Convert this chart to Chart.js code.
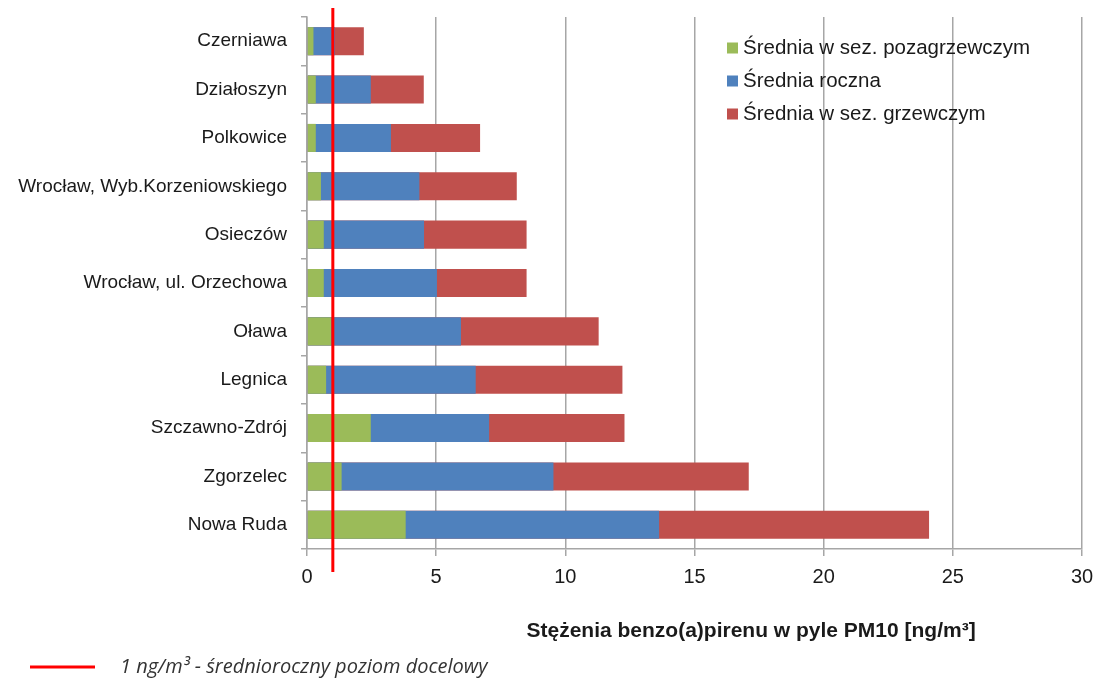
<!DOCTYPE html>
<html>
<head>
<meta charset="utf-8">
<script src="https://cdn.jsdelivr.net/npm/chart.js@4/dist/chart.umd.min.js"></script>
<style>
html,body{margin:0;padding:0;background:#fff;}
#wrap{width:1097px;height:682px;position:relative;}
</style>
</head>
<body>
<div id="wrap"><canvas id="c" width="1097" height="682"></canvas></div>
<script>
const categories = ["Czerniawa","Działoszyn","Polkowice","Wrocław, Wyb.Korzeniowskiego","Osieczów","Wrocław, ul. Orzechowa","Oława","Legnica","Szczawno-Zdrój","Zgorzelec","Nowa Ruda"];
const summerAvg = [0.25,0.34,0.34,0.54,0.65,0.65,0.94,0.74,2.47,1.34,3.82];
const annualAvg = [1.08,2.47,3.25,4.35,4.53,5.03,5.96,6.53,7.05,9.54,13.63];
const heatingAvg = [2.2,4.52,6.7,8.12,8.5,8.5,11.29,12.21,12.29,17.1,24.08];
const seriesNames = ["Średnia w sez. pozagrzewczym","Średnia roczna","Średnia w sez. grzewczym"];
const xTicks = [0,5,10,15,20,25,30];
const targetValue = 1;
const targetLabel = "1 ng/m³ - średnioroczny poziom docelowy";
const axisTitle = "Stężenia benzo(a)pirenu w pyle PM10 [ng/m³]";

const colors = ["#9BBB59","#4F81BD","#C0504D"];
const FONT = "'Liberation Sans', Arial, sans-serif";

const extras = {
  id: 'extras',
  afterDatasetsDraw(chart) {
    const ctx = chart.ctx;
    const xs = chart.scales.x;
    const area = chart.chartArea;
    const x = xs.getPixelForValue(targetValue);
    ctx.save();
    ctx.strokeStyle = "#FF0000";
    ctx.lineWidth = 3;
    ctx.beginPath();
    ctx.moveTo(x, area.top - 9);
    ctx.lineTo(x, area.bottom + 23);
    ctx.stroke();
    // legend inside plot
    ctx.font = "20.5px " + FONT;
    ctx.textBaseline = "middle";
    ctx.textAlign = "left";
    const lx = 727, ly = 48, step = 33;
    chart.data.datasets.forEach((ds, i) => {
      ctx.fillStyle = ds.backgroundColor;
      ctx.fillRect(lx, ly + i * step - 5.5, 11, 11);
      ctx.fillStyle = "#1a1a1a";
      ctx.fillText(ds.label, lx + 16, ly + i * step);
    });
    // axis title
    ctx.font = "bold 21px " + FONT;
    ctx.textAlign = "center";
    ctx.fillStyle = "#1a1a1a";
    ctx.fillText(axisTitle, area.left + (area.right - area.left) * 0.573, area.bottom + 82);
    // bottom note
    ctx.strokeStyle = "#FF0000";
    ctx.lineWidth = 3;
    ctx.beginPath();
    ctx.moveTo(30, 667);
    ctx.lineTo(95, 667);
    ctx.stroke();
    ctx.font = "italic 20px 'Open Sans', sans-serif";
    ctx.textAlign = "left";
    ctx.fillStyle = "#333";
    ctx.fillText(targetLabel, 120, 667);
    ctx.restore();
  }
};

new Chart(document.getElementById('c'), {
  type: 'bar',
  data: {
    labels: categories,
    datasets: [
      {label: seriesNames[0], data: summerAvg, backgroundColor: colors[0], grouped: false},
      {label: seriesNames[1], data: annualAvg, backgroundColor: colors[1], grouped: false},
      {label: seriesNames[2], data: heatingAvg, backgroundColor: colors[2], grouped: false}
    ]
  },
  options: {
    indexAxis: 'y',
    responsive: false,
    animation: false,
    devicePixelRatio: 1,
    barPercentage: 0.58,
    categoryPercentage: 1,
    layout: {padding: {top: 17, right: 15, bottom: 0, left: 0}},
    plugins: {legend: {display: false}, tooltip: {enabled: false}},
    scales: {
      x: {
        min: 0, max: 30,
        afterBuildTicks(scale) { scale.ticks = xTicks.map(v => ({value: v})); },
        afterFit(scale) { scale.height = 133; scale.paddingLeft = 0; scale.paddingRight = 0; },
        ticks: {color: "#1a1a1a", font: {family: FONT, size: 20}, padding: 9},
        grid: {color: "#A6A6A6", lineWidth: 1.5, tickLength: 7},
        border: {color: "#A6A6A6", width: 1.5}
      },
      y: {
        afterFit(scale) { scale.width = 307; scale.paddingTop = 0; scale.paddingBottom = 0; },
        ticks: {color: "#1a1a1a", font: {family: FONT, size: 19}, padding: 14},
        grid: {drawOnChartArea: false, offset: true, color: "#A6A6A6", lineWidth: 1.5, tickLength: 6},
        border: {color: "#A6A6A6", width: 1.5}
      }
    }
  },
  plugins: [extras]
});
</script>
</body>
</html>
